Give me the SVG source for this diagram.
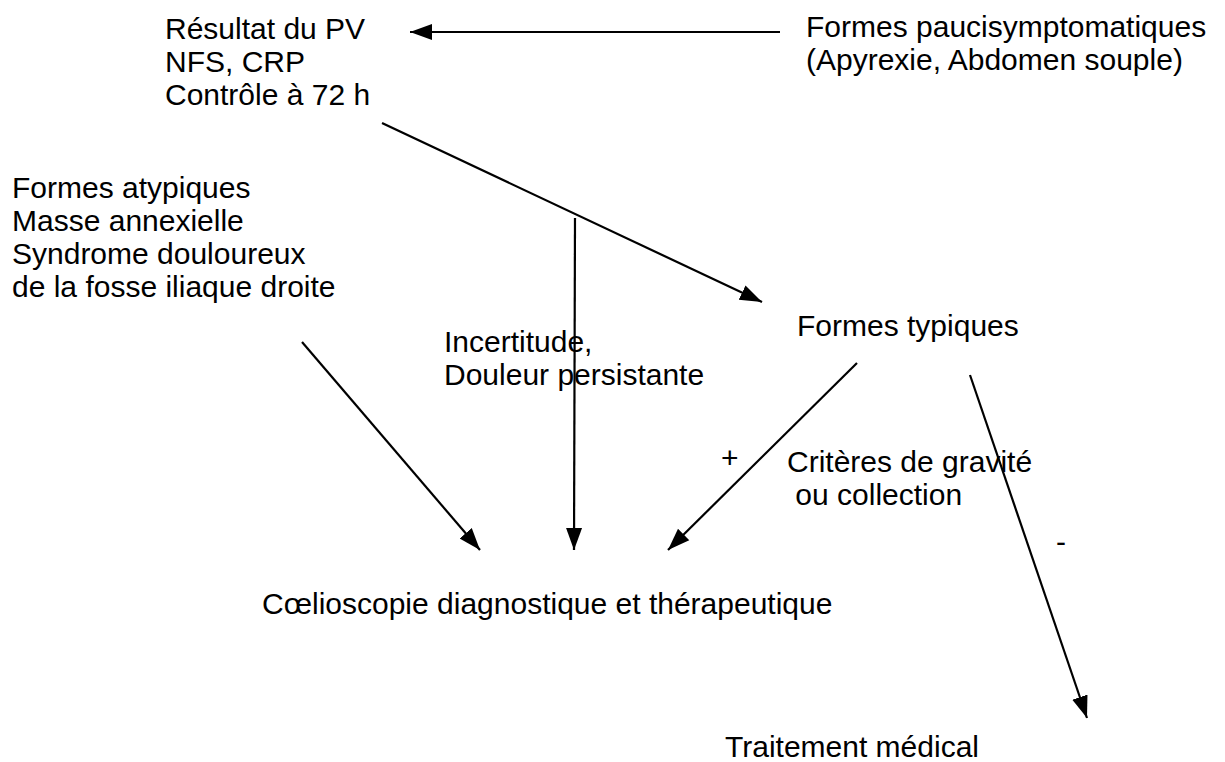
<svg xmlns="http://www.w3.org/2000/svg" width="1225" height="762" viewBox="0 0 1225 762">
<style>
text{font-family:"Liberation Sans",Arial,sans-serif;font-size:30px;fill:#000}
.c line{stroke:#000;stroke-width:2.2;fill:none}
</style>
<defs>
<marker id="ah" markerUnits="userSpaceOnUse" markerWidth="24" markerHeight="20" viewBox="0 0 24 20" refX="22" refY="10" orient="auto">
<path d="M0,2 L22,10 L0,18 Z" fill="#000"/>
</marker>
</defs>
<rect width="1225" height="762" fill="#fff"/>
<g class="c" id="connectors">
<line x1="780" y1="32" x2="410" y2="32" marker-end="url(#ah)"/>
<line x1="382" y1="123" x2="762" y2="302" marker-end="url(#ah)"/>
<line x1="575" y1="218" x2="574" y2="550" marker-end="url(#ah)"/>
<line x1="302" y1="342" x2="480" y2="550" marker-end="url(#ah)"/>
<line x1="857" y1="363" x2="668" y2="550" marker-end="url(#ah)"/>
<line x1="970" y1="375" x2="1087" y2="718" marker-end="url(#ah)"/>
</g>
<g id="n-pv"><text x="165" y="39">Résultat du PV</text><text x="165" y="72">NFS, CRP</text><text x="165" y="105">Contrôle à 72 h</text></g>
<g id="n-pauci"><text x="806" y="37">Formes paucisymptomatiques</text><text x="806" y="70">(Apyrexie, Abdomen souple)</text></g>
<g id="n-atyp"><text x="12" y="198">Formes atypiques</text><text x="12" y="231">Masse annexielle</text><text x="12" y="264">Syndrome douloureux</text><text x="12" y="297">de la fosse iliaque droite</text></g>
<g id="n-typ"><text x="797" y="336">Formes typiques</text></g>
<g id="l-incert"><text x="444" y="352">Incertitude,</text><text x="444" y="385">Douleur persistante</text></g>
<g id="l-plus"><text x="721" y="468">+</text></g>
<g id="l-crit"><text x="787" y="472">Critères de gravité</text><text x="787" y="505" xml:space="preserve"> ou collection</text></g>
<g id="l-minus"><text x="1056" y="552">-</text></g>
<g id="n-coelio"><text x="262" y="614">Cœlioscopie diagnostique et thérapeutique</text></g>
<g id="n-trait"><text x="725" y="757">Traitement médical</text></g>
</svg>
